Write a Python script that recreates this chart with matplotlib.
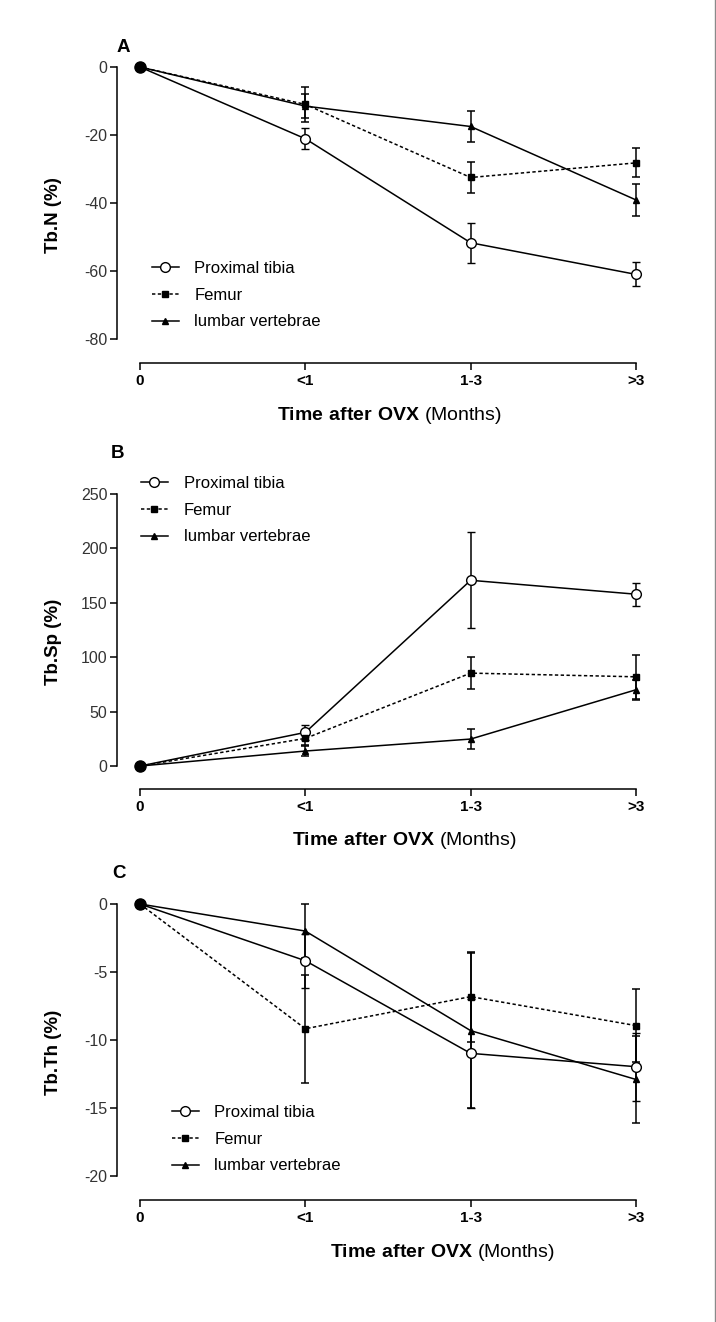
import matplotlib
matplotlib.use("Agg")
import matplotlib.pyplot as plt
from matplotlib.lines import Line2D

plt.rcParams['font.family'] = ['Liberation Sans', 'DejaVu Sans']
plt.rcParams['mathtext.fontset'] = 'custom'
plt.rcParams['mathtext.rm'] = 'Liberation Sans'
plt.rcParams['mathtext.bf'] = 'Liberation Sans:bold'
plt.rcParams['axes.unicode_minus'] = False

# data
times = ['0', '<1', '1-3', '>3']
x = [0, 1, 2, 3]
series = ['Proximal tibia', 'Femur', 'lumbar vertebrae']

tbn_tibia = [0, -21.1, -51.7, -61.0]
tbn_tibia_err = [0, 3.1, 5.9, 3.5]
tbn_femur = [0, -11.0, -32.5, -28.2]
tbn_femur_err = [0, 5.2, 4.5, 4.3]
tbn_lumbar = [0, -11.5, -17.5, -39.1]
tbn_lumbar_err = [0, 3.5, 4.6, 4.6]

tbsp_tibia = [0, 30.9, 170.7, 157.9]
tbsp_tibia_err = [0, 7.0, 44.0, 10.4]
tbsp_femur = [0, 25.4, 85.4, 82.0]
tbsp_femur_err = [0, 6.5, 15.0, 20.0]
tbsp_lumbar = [0, 13.8, 24.8, 70.1]
tbsp_lumbar_err = [0, 4.3, 9.6, 9.0]

tbth_tibia = [0, -4.17, -10.98, -11.96]
tbth_tibia_err = [0, 2.0, 4.0, 2.5]
tbth_femur = [0, -9.17, -6.81, -8.94]
tbth_femur_err = [0, 3.98, 3.3, 2.67]
tbth_lumbar = [0, -1.99, -9.31, -12.9]
tbth_lumbar_err = [0, 2.0, 5.7, 3.2]

W, H = 716, 1322
fig = plt.figure(figsize=(W / 100, H / 100), dpi=100)


def px_axes(left, right, top, bottom):
    return fig.add_axes([left / W, 1 - bottom / H, (right - left) / W, (bottom - top) / H])


def panel(ax, data, ylim, yticks, ylabel, letter, letter_xy, leg_xy, xlab_x):
    tib, tib_e, fem, fem_e, lum, lum_e = data
    eb = dict(capsize=2.6, elinewidth=1.1, capthick=1.1, clip_on=False, color='k', lw=1.1)
    ax.errorbar(x, tib, yerr=tib_e, marker='o', ms=7, mfc='white', mec='k', mew=1.0, ls='-', **eb)
    ax.errorbar(x, fem, yerr=fem_e, marker='s', ms=5, mfc='k', mec='k', ls=(0, (2.2, 1.6)), **eb)
    ax.errorbar(x, lum, yerr=lum_e, marker='^', ms=5, mfc='k', mec='k', ls='-', **eb)
    ax.plot(x[:1], tib[:1], 'o', ms=8, color='k', clip_on=False, zorder=5)

    ax.set_xlim(-23 / 165.33, 3 + 23 / 165.33)
    ax.set_ylim(*ylim)
    ax.set_yticks(yticks)
    ax.set_xticks(x)
    ax.set_xticklabels(times, fontweight='bold', fontsize=11)
    for s in ['top', 'right']:
        ax.spines[s].set_visible(False)
    ax.spines['left'].set_bounds(yticks[0], yticks[-1])
    ax.spines['bottom'].set_bounds(0, 3)
    for s in ['left', 'bottom']:
        ax.spines[s].set_linewidth(1.1)
    ax.tick_params(axis='y', length=5, width=1.1, labelsize=11.5, labelcolor='#333333', pad=2)
    ax.tick_params(axis='x', length=5, width=1.1, pad=3)
    ax.set_ylabel(ylabel, fontweight='bold', fontsize=13.5)
    ax.yaxis.set_label_coords(-0.101, 0.5)
    ax.set_xlabel(r'$\bf{Time\ after\ OVX}$ (Months)', fontsize=14)
    ax.xaxis.set_label_coords(xlab_x, -0.176)
    ax.xaxis.label.set_va('center')

    fig.text(letter_xy[0] / W, 1 - letter_xy[1] / H, letter, fontsize=13.5,
             fontweight='bold', ha='center', va='center')

    handles = [
        Line2D([], [], color='k', lw=1.1, marker='o', ms=7, mfc='white', mec='k'),
        Line2D([], [], color='k', lw=1.1, marker='s', ms=5, ls=(0, (2.2, 1.6))),
        Line2D([], [], color='k', lw=1.1, marker='^', ms=5),
    ]
    ax.legend(handles, series, loc='upper left',
              bbox_to_anchor=(leg_xy[0] / W, 1 - leg_xy[1] / H),
              bbox_transform=fig.transFigure, frameon=False, fontsize=12,
              borderpad=0, borderaxespad=0, handlelength=1.6,
              handletextpad=0.95, labelspacing=0.7)


axA = px_axes(117, 659, 67, 363)
panel(axA, (tbn_tibia, tbn_tibia_err, tbn_femur, tbn_femur_err, tbn_lumbar, tbn_lumbar_err),
      (-87.06, 0), [-80, -60, -40, -20, 0], 'Tb.N (%)', 'A', (123, 47), (152, 261), 0.502)

axB = px_axes(117, 659, 494, 789)
panel(axB, (tbsp_tibia, tbsp_tibia_err, tbsp_femur, tbsp_femur_err, tbsp_lumbar, tbsp_lumbar_err),
      (-21.1, 250), [0, 50, 100, 150, 200, 250], 'Tb.Sp (%)', 'B', (118, 453), (141, 476), 0.531)

axC = px_axes(117, 659, 904, 1200)
panel(axC, (tbth_tibia, tbth_tibia_err, tbth_femur, tbth_femur_err, tbth_lumbar, tbth_lumbar_err),
      (-21.76, 0), [-20, -15, -10, -5, 0], 'Tb.Th (%)', 'C', (119, 873), (172, 1105), 0.600)

# thin grey border on the right edge of the original page
fig.add_artist(Line2D([714.5 / W, 714.5 / W], [0, 1], color='#8a8a8a', lw=1.0))

fig.savefig('out.png', dpi=100)
